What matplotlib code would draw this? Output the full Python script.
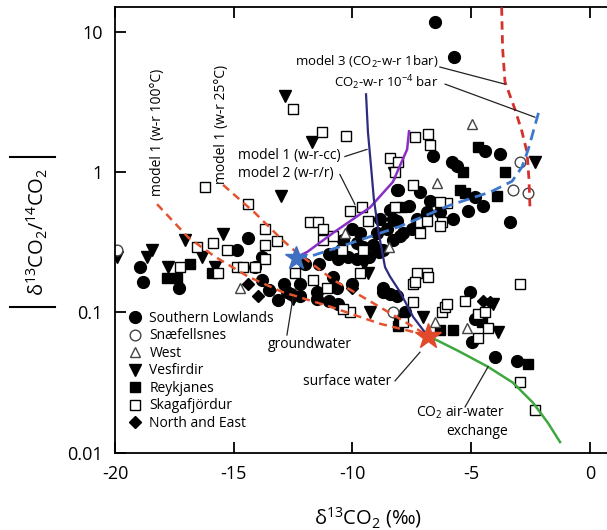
import matplotlib
matplotlib.use('Agg')
import matplotlib.pyplot as plt
from matplotlib.lines import Line2D
from matplotlib.ticker import NullLocator

plt.rcParams['font.family'] = ['Open Sans', 'DejaVu Sans']
plt.rcParams['mathtext.default'] = 'regular'
plt.rcParams['axes.unicode_minus'] = False

# ---------------- data ----------------
sl_x = [-6.53, -5.73, -18.95, -18.8, -17.3, -14.86, -14.4, -13.8, -14.1, -13.8, -13.5, -13.15, -12.9,
        -9.68, -9.14, -9.8, -8.13, -8.42, -8.13, -8.84, -8.55, -8.72, -8.3, -7.87, -7.5,
        -8.72, -8.13, -10.8, -10.65, -10.0, -11.5, -12.2, -12.75, -10.4, -10.0, -9.55, -10.5,
        -6.6, -5.8, -5.6, -4.4, -3.8, -8.08, -7.16, -6.74, -5.14, -4.5, -3.37, -5.77, -6.3, -6.86,
        -7.6, -8.3, -7.3, -8.97, -8.0, -4.84, -12.6, -12.2, -11.5, -11.0, -10.6, -8.72, -8.42,
        -8.0, -7.8, -5.05, -4.97, -4.0, -3.07, -4.84, -11.0, -10.6, -10.2, -9.8, -9.3, -8.9, -11.4, -12.0]
sl_y = [11.7, 6.6, 0.21, 0.165, 0.15, 0.28, 0.34, 0.25, 0.21, 0.17, 0.145, 0.123, 0.16,
        0.37, 0.30, 0.31, 0.75, 0.54, 0.45, 0.46, 0.39, 0.28, 0.33, 0.37, 0.39,
        0.15, 0.13, 0.18, 0.15, 0.16, 0.14, 0.16, 0.14, 0.33, 0.39, 0.29, 0.28,
        1.31, 1.17, 1.1, 1.42, 1.34, 0.75, 0.72, 0.62, 0.53, 0.57, 0.44, 0.46, 0.52, 0.52,
        0.57, 0.46, 0.46, 0.37, 0.35, 0.66, 0.135, 0.13, 0.125, 0.12, 0.115, 0.14, 0.135,
        0.089, 0.10, 0.14, 0.062, 0.048, 0.045, 0.089, 0.26, 0.24, 0.25, 0.24, 0.25, 0.27, 0.22, 0.22]

sn_x = [-19.9, -2.95, -3.24, -2.6, -8.3]
sn_y = [0.28, 1.17, 0.75, 0.71, 0.10]

we_x = [-4.97, -6.44, -14.74, -6.53, -5.18, -10.3, -8.45]
we_y = [2.19, 0.84, 0.15, 0.085, 0.077, 0.37, 0.29]

ve_x = [-12.84, -13.0, -11.7, -8.25, -2.3, -19.9, -18.44, -18.65, -17.77, -17.05, -16.33, -15.45,
        -15.8, -9.35, -9.26, -7.03, -4.08, -3.87, -9.5, -12.5]
ve_y = [3.5, 0.67, 1.63, 0.98, 1.17, 0.25, 0.28, 0.25, 0.21, 0.33, 0.25, 0.36,
        0.21, 0.19, 0.10, 0.093, 0.115, 0.073, 0.22, 0.125]

re_x = [-4.7, -5.35, -3.58, -5.47, -5.26, -3.92, -16.84, -17.8, -17.4, -15.9, -8.08, -6.3, -5.77,
        -4.55, -2.6, -7.9]
re_y = [1.5, 1.0, 1.0, 0.75, 0.71, 0.67, 0.22, 0.175, 0.175, 0.19, 0.08, 0.075, 0.075,
        0.085, 0.043, 0.56]

sk_x = [-12.5, -16.2, -14.4, -11.28, -10.27, -7.37, -6.82, -6.74, -8.42, -8.08, -8.2,
        -16.55, -15.87, -15.28, -17.26, -15.66, -14.86, -14.6, -13.68, -13.68, -13.18, -13.68, -14.1,
        -11.79, -11.45, -11.24, -10.1, -9.6, -9.35, -8.2, -7.16, -6.86, -6.23, -6.0, -9.68, -7.28,
        -6.86, -7.45, -11.66, -11.07, -10.44, -12.4, -11.24, -10.8, -9.55,
        -7.45, -6.3, -7.16, -6.3, -10.1, -7.45, -7.37, -7.87, -6.23, -6.1, -10.4, -6.82,
        -2.95, -5.26, -6.02, -4.7, -4.4, -4.3, -4.7, -2.95, -2.3]
sk_y = [2.8, 0.78, 0.59, 1.92, 1.8, 1.77, 1.86, 1.55, 1.25, 1.17, 1.0,
        0.29, 0.31, 0.28, 0.21, 0.19, 0.21, 0.21, 0.39, 0.30, 0.32, 0.24, 0.21,
        0.44, 0.44, 0.39, 0.53, 0.56, 0.45, 0.56, 0.44, 0.45, 0.44, 0.6, 0.19, 0.19,
        0.19, 0.16, 0.17, 0.15, 0.28, 0.19, 0.33, 0.35, 0.28,
        0.81, 0.61, 0.37, 0.41, 0.10, 0.118, 0.165, 0.085, 0.10, 0.11, 0.105, 0.18,
        0.16, 0.12, 0.115, 0.097, 0.10, 0.077, 0.066, 0.032, 0.020]

ne_x = [-14.4, -13.98, -13.47, -10.0, -4.5, -4.2]
ne_y = [0.16, 0.13, 0.145, 0.15, 0.12, 0.118]

# model curves
m3_1bar_x = [-3.72, -3.68, -3.58, -3.16, -2.86, -2.65, -2.57, -2.53]
m3_1bar_y = [14.9, 7.6, 4.4, 2.8, 1.93, 1.38, 0.89, 0.57]
m3_4bar_x = [-12.38, -11.8, -10.1, -8.0, -5.9, -4.2, -3.28, -2.86, -2.6, -2.3, -2.1]
m3_4bar_y = [0.246, 0.25, 0.31, 0.41, 0.58, 0.72, 0.86, 1.09, 1.45, 2.2, 2.9]
cc_x = [-12.38, -11.9, -10.8, -9.26, -8.3, -7.7, -7.62]
cc_y = [0.246, 0.27, 0.37, 0.56, 0.85, 1.45, 1.95]
rr_x = [-9.43, -9.35, -9.22, -9.1, -8.9, -8.63, -8.42, -8.0, -7.45, -7.03, -6.82]
rr_y = [3.58, 1.93, 1.1, 0.64, 0.37, 0.21, 0.18, 0.14, 0.093, 0.075, 0.068]
w100_x = [-18.23, -16.9, -15.8, -14.4, -12.97, -10.95, -8.84, -7.5, -6.82]
w100_y = [0.59, 0.34, 0.25, 0.18, 0.14, 0.11, 0.083, 0.073, 0.068]
w25_x = [-15.45, -14.1, -12.97, -12.38, -10.8, -9.26, -7.45, -6.82]
w25_y = [0.81, 0.51, 0.33, 0.27, 0.17, 0.12, 0.079, 0.068]
air_x = [-6.82, -6.32, -5.47, -4.29, -3.24, -2.40, -1.77, -1.26]
air_y = [0.068, 0.0618, 0.0523, 0.0409, 0.0315, 0.0227, 0.0163, 0.0119]

gw_star = (-12.38, 0.246)
sw_star = (-6.82, 0.068)

series_labels = ['Southern Lowlands', 'Snæfellsnes', 'West', 'Vesfirdir', 'Reykjanes',
                 'Skagafjördur', 'North and East']

# ---------------- figure ----------------
W, H = 607, 530
fig = plt.figure(figsize=(W / 100, H / 100), dpi=100)
ax = fig.add_axes([115 / W, (H - 452.7) / H, (W - 115) / W, (452.7 - 7) / H])
ax.set_yscale('log')
ax.set_xlim(-20, 0.716)
ax.set_ylim(0.01, 15)

ms_c = 8.5
ms_s = 6.9
ms_t = 8.2
ms_d = 5.9
styles = [
    dict(marker='o', ms=ms_c, mfc='black', mec='black'),
    dict(marker='o', ms=ms_c - 0.8, mfc='white', mec='#444444', mew=1.0),
    dict(marker='^', ms=ms_t - 0.5, mfc='white', mec='#444444', mew=1.0),
    dict(marker='v', ms=ms_t, mfc='black', mec='black'),
    dict(marker='s', ms=ms_s, mfc='black', mec='black'),
    dict(marker='s', ms=ms_s, mfc='white', mec='black', mew=1.0),
    dict(marker='D', ms=ms_d, mfc='black', mec='black'),
]
data = [(sl_x, sl_y), (sn_x, sn_y), (we_x, we_y), (ve_x, ve_y), (re_x, re_y), (sk_x, sk_y), (ne_x, ne_y)]
order = [0, 3, 4, 6, 5, 1, 2]
for i in order:
    xs, ys = data[i]
    ax.plot(xs, ys, ls='none', zorder=2, **styles[i])

# curves
ax.plot(w100_x, w100_y, color='#e4532f', lw=1.8, ls=(0, (3.2, 2.2)), zorder=3)
ax.plot(w25_x, w25_y, color='#e4532f', lw=1.8, ls=(0, (3.2, 2.2)), zorder=3)
ax.plot(m3_1bar_x, m3_1bar_y, color='#d6302c', lw=2.0, ls=(0, (3.0, 2.0)), zorder=3)
ax.plot(m3_4bar_x, m3_4bar_y, color='#3d78cf', lw=2.0, ls=(0, (4.0, 2.2)), zorder=3)
ax.plot(cc_x, cc_y, color='#8a2fc6', lw=1.8, zorder=3)
ax.plot(rr_x, rr_y, color='#2e2c7e', lw=1.6, zorder=3)
ax.plot(air_x, air_y, color='#3da83f', lw=1.8, zorder=3)

ax.plot([gw_star[0]], [gw_star[1]], marker='*', ms=17, color='#3f6fc0', mec='#3f6fc0', zorder=6)
ax.plot([sw_star[0]], [sw_star[1]], marker='*', ms=19, color='#e2492b', mec='#e2492b', zorder=6)

# annotation leader lines
leaders = [
    ((-6.32, 5.6), (-3.58, 4.23)),
    ((-6.1, 4.23), (-2.32, 2.46)),
    ((-10.32, 1.29), (-9.39, 1.45)),
    ((-10.53, 0.96), (-9.9, 0.59)),
    ((-12.76, 0.069), (-12.5, 0.129)),
    ((-8.21, 0.0325), (-7.16, 0.052)),
    ((-5.26, 0.0212), (-4.29, 0.041)),
]
for (x0, y0), (x1, y1) in leaders:
    ax.plot([x0, x1], [y0, y1], color='#222222', lw=0.9, zorder=4)

fs_a = 10
ax.text(-18.23, 0.67, 'model 1 (w-r 100°C)', rotation=90, ha='center', va='bottom', fontsize=fs_a)
ax.text(-15.5, 0.82, 'model 1 (w-r 25°C)', rotation=90, ha='center', va='bottom', fontsize=fs_a)
ax.text(-14.82, 1.31, 'model 1 (w-r-cc)', ha='left', va='center', fontsize=fs_a)
ax.text(-14.82, 0.98, 'model 2 (w-r/r)', ha='left', va='center', fontsize=fs_a)
ax.text(-6.4, 6.07, 'model 3 (CO$_2$-w-r 1bar)', ha='right', va='center', fontsize=9.5)
ax.text(-6.4, 4.37, 'CO$_2$-w-r 10$^{-4}$ bar', ha='right', va='center', fontsize=9.5)
ax.text(-11.78, 0.0587, 'groundwater', ha='center', va='center', fontsize=fs_a)
ax.text(-10.21, 0.032, 'surface water', ha='center', va='center', fontsize=fs_a)
ax.text(-5.43, 0.0192, 'CO$_2$ air-water', ha='center', va='center', fontsize=fs_a)
ax.text(-4.76, 0.01406, 'exchange', ha='center', va='center', fontsize=fs_a)

# axes styling
ax.set_xticks([-20, -15, -10, -5, 0])
ax.set_xticklabels(['-20', '-15', '-10', '-5', '0'])
ax.set_yticks([0.01, 0.1, 1, 10])
ax.set_yticklabels(['0.01', '0.1', '1', '10'])
ax.yaxis.set_minor_locator(NullLocator())
ax.tick_params(direction='in', length=8, width=1.3, labelsize=13)
ax.tick_params(axis='x', top=True, pad=9)
ax.tick_params(axis='y', pad=9)
ax.spines['right'].set_visible(False)
for s in ['left', 'bottom', 'top']:
    ax.spines[s].set_linewidth(1.3)

# legend
handles = [Line2D([], [], ls='none', **styles[i]) for i in range(7)]
leg = ax.legend(handles, series_labels, loc='upper left', bbox_to_anchor=(0.026, 0.318),
                frameon=False, fontsize=10, handlelength=1.0, handletextpad=0.55,
                labelspacing=0.18, borderpad=0, borderaxespad=0)

# axis labels
fig.text(368 / W, 1 - 518 / H, 'δ$^{13}$CO$_2$ (‰)', ha='center', va='center', fontsize=14.5)
fig.text(37 / W, 1 - 232 / H, 'δ$^{13}$CO$_2$/$^{14}$CO$_2$', ha='center', va='center',
         rotation=90, fontsize=14.5)
for yy in [157, 307]:
    fig.add_artist(Line2D([10 / W, 55 / W], [1 - yy / H, 1 - yy / H], transform=fig.transFigure,
                          color='black', lw=1.5))

fig.savefig('out.png', dpi=100)
